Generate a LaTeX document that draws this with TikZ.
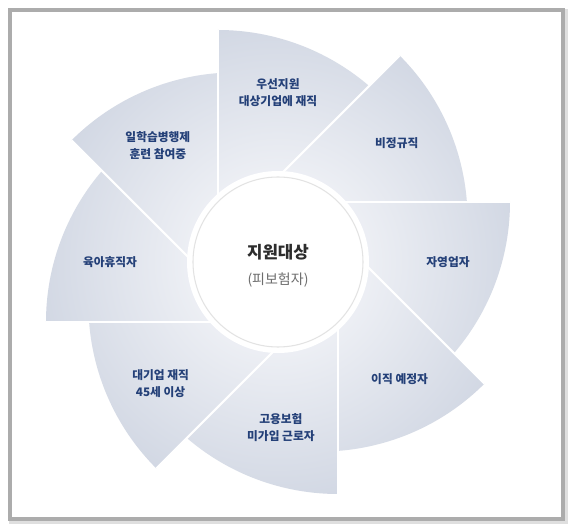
\documentclass[tikz,border=0pt]{standalone}
\usepackage{fontspec}
\setmainfont{Noto Sans CJK KR}
\usetikzlibrary{calc}
\definecolor{fanblue}{RGB}{201,208,222}
\definecolor{fanlight}{RGB}{238,240,245}
\definecolor{navy0}{RGB}{36,64,120}
\definecolor{ink}{RGB}{45,45,45}
\definecolor{subgray}{RGB}{110,110,110}
\pgfdeclareradialshading{fan}{\pgfpointorigin}{color(0bp)=(white); color(7bp)=(fanlight); color(25bp)=(fanblue); color(50bp)=(fanblue)}
% one blade, straight edge along angle #1, cut where the next blade starts
\newcommand{\fanwedge}[1]{%
  \begin{scope}[rotate=#1]
    \clip ($(45:60)+(-45:400)$) -- ($(45:60)+(-45:400)+(45:400)$) -- ($(45:60)+(135:400)+(45:400)$) -- ($(45:60)+(135:400)$) -- cycle;
    \clip (0,60) -- (232,60) arc[start angle=0,end angle=-60,radius=232] -- cycle;
    \begin{scope}[rotate=-#1]
      \shade[shading=fan] (0,0) circle (290);
    \end{scope}
  \end{scope}}
\newcommand{\fansep}[1]{\draw[white,line width=1.6pt,rotate=#1] (0,60) -- (232,60);}

\begin{document}
\begin{tikzpicture}[x=0.75pt,y=0.75pt,
  lbl/.style={font=\fontsize{8.8}{12.75}\selectfont\bfseries,text=navy0,align=center,inner sep=1pt},
  hub/.style={circle,fill=white,draw=gray!22,line width=0.8pt,minimum size=127.5pt,inner sep=0pt},
  halo/.style={fill=white},
  frame/.style={draw=gray!65,line width=2.5pt,fill=white},
  shadow/.style={draw=gray!25,line width=5pt},
]
\useasboundingbox (-278,262) rectangle (297,-269);
% card
\draw[shadow] (-266,250) rectangle (287,-259);
\draw[frame] (-268,252) rectangle (285,-257);
% blades
\fanwedge{90}
\fanwedge{45}
\fanwedge{0}
\fanwedge{-45}
\fanwedge{-90}
\fanwedge{-135}
\fanwedge{180}
\fanwedge{135}
\fansep{90}
\fansep{45}
\fansep{0}
\fansep{-45}
\fansep{-90}
\fansep{-135}
\fansep{180}
\fansep{135}
% hub
\fill[halo] (0,0) circle (91);
\node[hub] (hub) at (0,0) {};
\node[font=\fontsize{12.6}{14}\selectfont\bfseries,text=ink] (title) at (0,9.5) {지원대상};
\node[font=\fontsize{10.5}{12}\selectfont,text=subgray] (sub) at (0,-17.7) {(피보험자)};
% blade labels
\node[lbl] (prio) at (90:169) {우선지원\\대상기업에 재직};
\node[lbl] (temp) at (45:168) {비정규직};
\node[lbl] (self) at (0:170) {자영업자};
\node[lbl] (move) at (-44:169) {이직 예정자};
\node[lbl] (unins) at (-89:166) {고용보험\\미가입 근로자};
\node[lbl] (senior) at (-134:169) {대기업 재직\\45세 이상};
\node[lbl] (leave) at (180:168) {육아휴직자};
\node[lbl] (dual) at (136:167) {일학습병행제\\훈련 참여중};
\end{tikzpicture}
\end{document}
